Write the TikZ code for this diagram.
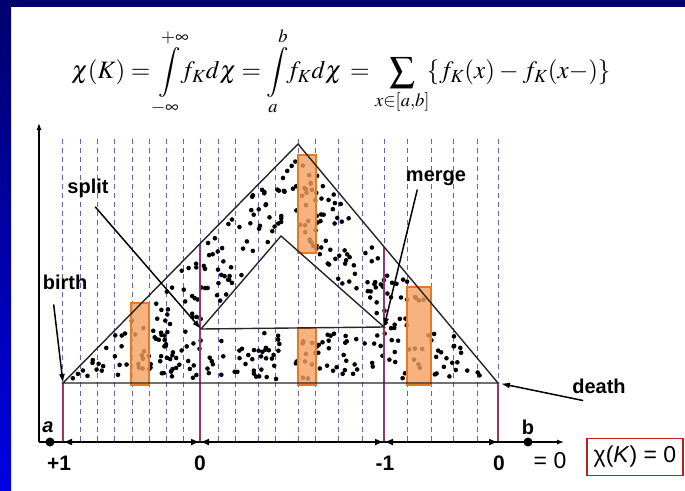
\documentclass[tikz,border=0pt]{standalone}
\usepackage{mathptmx}
\usepackage[no-math]{fontspec}
\setmainfont{Liberation Sans}
\usetikzlibrary{arrows.meta,positioning,calc}
\definecolor{navyband}{RGB}{0,0,110}
\definecolor{blueband}{RGB}{0,0,225}
\definecolor{gridblue}{RGB}{95,95,210}
\definecolor{plum}{RGB}{160,50,110}
\definecolor{orangefill}{RGB}{245,160,95}
\definecolor{orangeedge}{RGB}{230,120,40}
\definecolor{boxred}{RGB}{190,30,30}
\tikzset{
  lbl/.style      = {font=\bfseries\fontsize{20}{24}\selectfont, inner sep=1pt},
  num/.style      = {font=\bfseries\fontsize{21}{24}\selectfont, inner sep=1pt},
  gridline/.style = {draw=gridblue, line width=0.7pt, dash pattern=on 5pt off 4pt},
  bar/.style      = {draw=plum, line width=2.2pt},
  slab/.style     = {draw=orangeedge, line width=1.2pt, fill=orangefill, fill opacity=0.8},
  edge/.style     = {draw=black!85, line width=1.4pt},
  ptr/.style      = {-{Latex[length=9pt,width=6pt]}, line width=1.5pt},
  span/.style     = {{Latex[length=9pt,width=7pt]}-{Latex[length=9pt,width=7pt]}, line width=2pt},
  axis/.style     = {-{Latex[length=7pt,width=5pt]}, line width=1.2pt},
  endpt/.style    = {circle, fill=black, inner sep=0pt, minimum size=9pt},
}

\begin{document}
\begin{tikzpicture}[x=1pt,y=-1pt]
\useasboundingbox (0,0) rectangle (685,490);
\fill[white] (0,0) rectangle (685,490);
% slide border
\shade[top color=navyband, bottom color=blueband] (0,0) rectangle (11,490);
\fill[navyband] (0,0) rectangle (685,7);

% formula
\node (formula) at (341,72) {\fontsize{25}{30}\selectfont
  \thickmuskip=4mu \medmuskip=3mu
  $\displaystyle \chi(K)=\int\limits_{-\infty}^{+\infty}\!\! f_K d\chi=\int\limits_{a}^{b}\!\! f_K d\chi\,=\sum_{x\in[a,b]}\!\{f_K(x)-f_K(x-)\}$};

% key points
\coordinate (origin) at (39,442);
\coordinate (yaxtop) at (39,123);
\coordinate (xaxend) at (564,442);
\coordinate (birthpt) at (63,383);
\coordinate (apex) at (298,144);
\coordinate (deathpt) at (498,383);
\coordinate (splitpt) at (201,329);
\coordinate (holeapex) at (281,236);
\coordinate (mergept) at (384,327);

% dashed grid
\foreach \gx in {62,80,97,114,132,149,166,183,200,218,235,258,275,298,315,338,362,384,407,431,453,477,498}
  \draw[gridline] (\gx,139) -- (\gx,442);

% scattered points
\pgfmathsetseed{4217}
\foreach \i in {1,...,1050}{
  \pgfmathsetmacro\px{63+435*rnd}
  \pgfmathsetmacro\py{144+239*rnd}
  \pgfmathsetmacro\keep{and(and(\py>max(383-(\px-63)*1.017,144+(\px-298)*1.195)+5,\py<379),not(and(\py>max(329-(\px-201)*1.1625,236+(\px-281)*0.8835)-5,\py<333)))}
  \ifdim\keep pt>0.5pt \fill (\px,\py) circle (2.3pt);\fi
}

% critical levels
\draw[bar] (63,383) -- (63,442);
\draw[bar] (200,244) -- (200,442);
\draw[bar] (384,247) -- (384,442);
\draw[bar] (498,383) -- (498,442);

% slices
\draw[slab] (131,303) rectangle (149,385);
\draw[slab] (298,155) rectangle (316,253);
\draw[slab] (298,328) rectangle (316,385);
\draw[slab] (407,287) rectangle (431,385);

% shape
\draw[edge] (birthpt) -- (apex) -- (deathpt) -- cycle;
\draw[edge] (splitpt) -- (holeapex) -- (mergept) -- cycle;

% axes
\draw[axis] (origin) -- (yaxtop);
\draw[axis] (origin) -- (xaxend);
\node[endpt] (pa) at (50,442) {};
\node[endpt] (pb) at (528,442) {};
\node[lbl, font=\bfseries\itshape\fontsize{20}{24}\selectfont] (lbla) at (48,427) {a};
\node[lbl] (lblb) at (528,427) {b};

% intervals
\coordinate (s1) at (63,442);
\coordinate (s2) at (200,442);
\coordinate (s3) at (384,442);
\coordinate (s4) at (498,442);
\draw[span] (s1) -- (s2);
\draw[span] (s2) -- (s3);
\draw[span] (s3) -- (s4);

\node[num] (nplus) at (59,463) {+1};
\node[num] (nzeroa) at (200,463) {0};
\node[num] (nminus) at (385,463) {-1};
\node[num] (nzerob) at (499,463) {0};
\node[font=\fontsize{23}{26}\selectfont, inner sep=1pt] (eqzero) at (550,461) {= 0};
\node[draw=boxred, line width=1.5pt, minimum width=96pt, minimum height=37pt,
      font=\fontsize{23}{26}\selectfont] (chibox) at (635,457) {χ(\textit{K}) = 0};

% event labels
\node[lbl] (birth) at (65,282) {birth};
\node[lbl] (split) at (88,188) {split};
\node[lbl] (merge) at (436,178) {merge};
\node[lbl] (death) at (599,386) {death};
\draw[ptr, shorten <=14pt] ([xshift=-13pt]birth.south) -- (birthpt);
\draw[ptr, shorten <=11pt] (split.south) -- (splitpt);
\draw[ptr, shorten <=3pt] ([xshift=-18pt]merge.south) -- (mergept);
\draw[ptr, shorten >=3pt] ([xshift=12pt,yshift=-6pt]death.south west) -- (deathpt);
\end{tikzpicture}
\end{document}
